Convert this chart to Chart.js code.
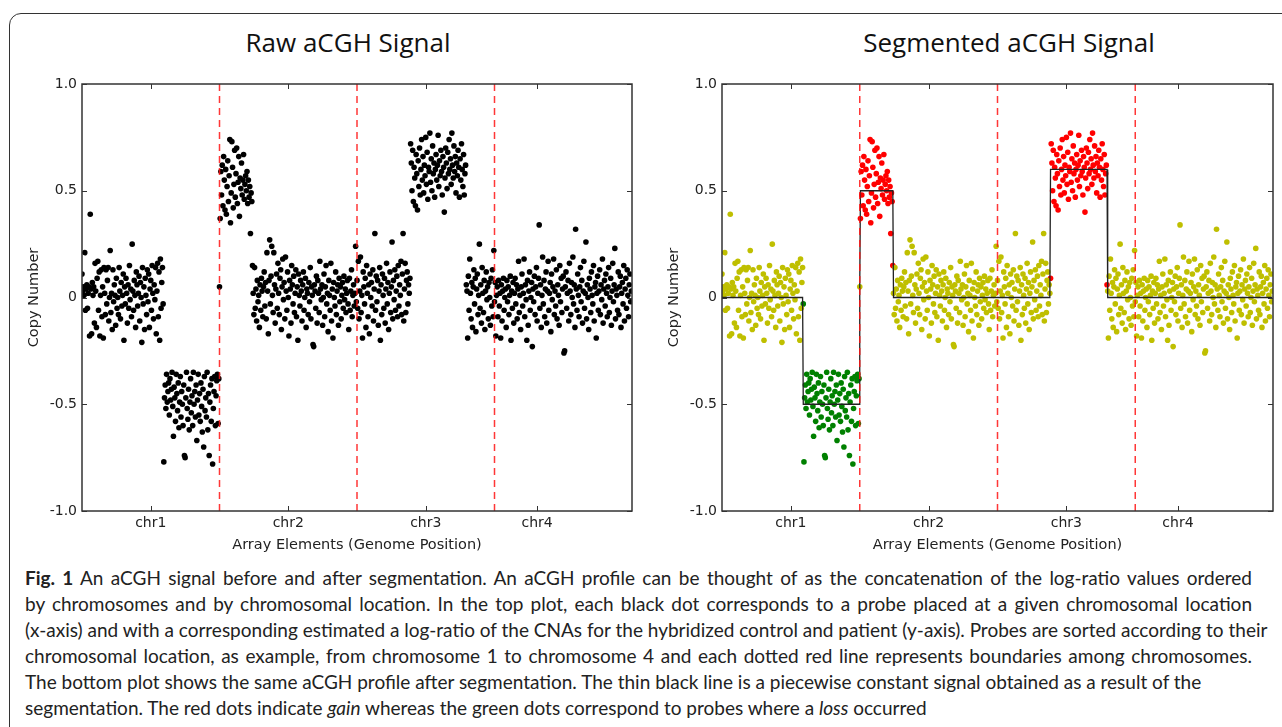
<!DOCTYPE html>
<html lang="en">
<head>
<meta charset="UTF-8">
<title>aCGH signal before and after segmentation</title>
<script src="https://cdn.jsdelivr.net/npm/chart.js"></script>
<style>
    body { margin: 0; background: #fff; width: 1282px; height: 727px; overflow: hidden; position: relative; font-family: 'Open Sans', sans-serif; }
    .frame { position: absolute; left: 9px; top: 13px; width: 1300px; height: 800px; border: 1.5px solid #333; border-radius: 12px; box-sizing: border-box; }
    .plot { position: absolute; top: 0; }
    .plot-title { position: absolute; top: 29px; font-size: 26px; line-height: 26px; color: #111; white-space: nowrap; transform: translateX(-50%); }
    .caption { position: absolute; left: 25px; top: 565px; width: 1227px; font-family: Lato, 'Open Sans', sans-serif; font-size: 19px; line-height: 26px; color: #222; }
    .caption div { white-space: nowrap; }
    .caption .full { text-align: justify; text-align-last: justify; }
</style>
</head>
<body>
    <div class="frame"></div>

    <div class="plot-title" style="left:348px">Raw aCGH Signal</div>
    <div class="plot-title" style="left:1009px">Segmented aCGH Signal</div>

    <canvas id="rawChart" class="plot" style="left:0" width="640" height="560"></canvas>
    <canvas id="segChart" class="plot" style="left:640px" width="640" height="560"></canvas>

    <div class="caption">
        <div class="full"><b>Fig. 1</b> An aCGH signal before and after segmentation. An aCGH profile can be thought of as the concatenation of the log-ratio values ordered</div>
        <div class="full">by chromosomes and by chromosomal location. In the top plot, each black dot corresponds to a probe placed at a given chromosomal location</div>
        <div class="full">(x-axis) and with a corresponding estimated a log-ratio of the CNAs for the hybridized control and patient (y-axis). Probes are sorted according to their</div>
        <div class="full">chromosomal location, as example, from chromosome 1 to chromosome 4 and each dotted red line represents boundaries among chromosomes.</div>
        <div>The bottom plot shows the same aCGH profile after segmentation. The thin black line is a piecewise constant signal obtained as a result of the</div>
        <div>segmentation. The red dots indicate <i>gain</i> whereas the green dots correspond to probes where a <i>loss</i> occurred</div>
    </div>

<script>
// chromosome axis
const chromosomes = ['chr1', 'chr2', 'chr3', 'chr4'];
const chrTickPos = [100, 300, 500, 662];
const chrBoundaries = [200, 400, 600];
const yTicks = [-1, -0.5, 0, 0.5, 1];

// copy number (log-ratio) per probe, 200 probes per chromosome
const chr1Values = [
    0.11, 0.03, 0.05, 0.01, 0.21, -0.06, 0.04, 0.06, -0.05, 0.02,
    0.05, -0.18, 0.39, 0.04, -0.17, 0.07, 0.01, 0.05, -0.12, 0.16,
    0.03, -0.14, 0.09, 0.17, -0.06, 0.12, -0.18, 0.01, 0.13, -0.09,
    0.05, -0.19, 0.14, 0.02, -0.08, 0.13, -0.03, 0.08, 0.14, -0.11,
    0.00, 0.22, -0.07, 0.02, -0.15, 0.13, -0.02, 0.06, 0.01, -0.13,
    0.09, -0.05, 0.00, -0.08, 0.14, 0.03, -0.10, 0.07, -0.04, 0.01,
    0.11, -0.20, 0.05, -0.03, 0.09, 0.02, -0.12, 0.06, -0.05, 0.15,
    -0.01, 0.04, -0.09, 0.25, 0.03, -0.06, 0.08, 0.01, -0.14, 0.12,
    0.06, -0.04, 0.02, 0.10, -0.11, 0.07, 0.00, -0.21, 0.14, -0.03,
    0.05, -0.15, 0.09, 0.01, -0.08, 0.13, -0.02, 0.11, -0.14, 0.04,
    0.08, -0.06, 0.15, 0.02, -0.10, 0.06, -0.01, 0.14, -0.17, 0.03,
    0.16, -0.09, 0.12, -0.20, 0.18, -0.05, 0.07, 0.14,
    -0.03, -0.77, -0.47, -0.41, -0.52, -0.36, -0.49, -0.44, -0.40, -0.55,
    -0.38, -0.48, -0.43, -0.35, -0.51, -0.65, -0.42, -0.47, -0.58, -0.36,
    -0.45, -0.53, -0.40, -0.61, -0.49, -0.37, -0.56, -0.44, -0.50, -0.60,
    -0.41, -0.74, -0.75, -0.47, -0.35, -0.52, -0.57, -0.43, -0.62, -0.49,
    -0.38, -0.54, -0.46, -0.60, -0.35, -0.50, -0.44, -0.56, -0.41, -0.67,
    -0.48, -0.36, -0.55, -0.45, -0.58, -0.40, -0.51, -0.63, -0.43, -0.70,
    -0.37, -0.53, -0.47, -0.56, -0.35, -0.62, -0.45, -0.74, -0.49, -0.41,
    -0.58, -0.38, -0.78, -0.52, -0.44, -0.37, -0.60, -0.46, -0.39, -0.36,
    -0.59, -0.38
];

const chr2Values = [
    0.05,
    0.37, 0.59, 0.48, 0.62, 0.43, 0.66, 0.55, 0.41, 0.60, 0.39,
    0.52, 0.64, 0.45, 0.57, 0.74, 0.35, 0.49, 0.73, 0.61, 0.42,
    0.53, 0.69, 0.47, 0.58, 0.70, 0.44, 0.54, 0.66, 0.38, 0.56,
    0.51, 0.63, 0.48, 0.55, 0.67, 0.46, 0.53, 0.57, 0.50, 0.59,
    0.44, 0.55, 0.47, 0.52, 0.30, 0.49, 0.45, 0.15,
    0.02, -0.08, 0.14, -0.05, 0.04, -0.11, 0.08, -0.02, 0.01, -0.14,
    0.06, -0.06, 0.09, 0.03, -0.09, 0.05, 0.12, -0.04, 0.07, -0.10,
    0.21, 0.03, -0.17, 0.08, 0.27, -0.03, 0.10, 0.24, 0.01, -0.07,
    0.21, 0.06, -0.12, 0.04, 0.11, -0.05, 0.16, 0.02, -0.08, 0.09,
    0.13, -0.15, 0.05, 0.18, -0.01, 0.07, -0.10, 0.19, 0.03, -0.06,
    0.12, 0.00, -0.18, 0.08, 0.04, -0.12, 0.15, 0.06, -0.03, 0.10,
    -0.07, 0.02, 0.13, -0.09, 0.05, -0.20, 0.11, 0.01, -0.04, 0.08,
    0.03, -0.11, 0.06, 0.12, -0.06, 0.00, 0.09, -0.14, 0.04, 0.02,
    -0.08, 0.07, -0.02, 0.14, -0.10, 0.05, 0.01, -0.22, -0.23, 0.06,
    0.03, -0.05, 0.10, -0.12, 0.08, 0.02, -0.07, 0.17, 0.04, -0.01,
    0.06, -0.13, 0.00, 0.11, -0.09, 0.05, 0.15, -0.03, 0.02, -0.16,
    0.08, 0.01, -0.06, 0.16, -0.11, 0.04, -0.19, 0.07, 0.00, -0.04,
    0.12, -0.08, 0.03, 0.06, -0.13, 0.09, -0.02, 0.05, -0.10, 0.01,
    0.07, -0.05, 0.10, -0.01, 0.04, -0.07, 0.02, 0.08, -0.03, -0.15,
    0.09, -0.06, 0.03, 0.13, -0.09, 0.01, 0.06, -0.04, 0.02, 0.24,
    -0.02
];

const chr3Values = [
    0.08, -0.05, 0.17, -0.10, 0.03, 0.19, -0.07, 0.01, -0.19, 0.12,
    0.05, -0.03, 0.09, -0.14, 0.15, 0.02, -0.09, 0.06, -0.17, 0.11,
    0.00, 0.07, -0.04, 0.13, -0.11, 0.04, 0.30, -0.06, 0.10, -0.02,
    0.08, -0.13, 0.03, 0.14, -0.20, 0.06, -0.08, 0.11, 0.01, -0.05,
    0.09, -0.12, 0.04, 0.16, -0.03, 0.07, -0.15, 0.02, 0.12, -0.07,
    0.05, 0.26, -0.10, 0.08, -0.01, 0.13, -0.06, 0.03, 0.10, -0.09,
    0.15, -0.04, 0.06, 0.01, 0.17, -0.08, 0.11, 0.30, -0.11, 0.04,
    0.16, -0.07, 0.08, 0.12, -0.03, 0.06, 0.02,
    0.09, 0.72, 0.63, 0.50, 0.69, 0.45, 0.61, 0.56, 0.43, 0.67,
    0.58, 0.41, 0.64, 0.52, 0.70, 0.48, 0.60, 0.74, 0.55, 0.66,
    0.49, 0.62, 0.57, 0.75, 0.53, 0.68, 0.46, 0.61, 0.59, 0.77,
    0.54, 0.65, 0.50, 0.71, 0.58, 0.63, 0.47, 0.60, 0.67, 0.55,
    0.62, 0.76, 0.52, 0.64, 0.57, 0.69, 0.59, 0.48, 0.66, 0.61,
    0.40, 0.56, 0.70, 0.63, 0.51, 0.68, 0.58, 0.74, 0.60, 0.65,
    0.53, 0.77, 0.62, 0.56, 0.71, 0.59, 0.66, 0.49, 0.63, 0.57,
    0.69, 0.61, 0.47, 0.65, 0.55, 0.72, 0.60, 0.52, 0.67, 0.48,
    0.58, 0.62, 0.06,
    0.03, -0.19, 0.10, -0.06, 0.18, 0.02, -0.10, 0.07, -0.14, 0.05,
    0.13, -0.03, 0.09, -0.16, 0.04, 0.11, -0.08, 0.01, 0.25, -0.05,
    0.06, -0.12, 0.14, 0.02, -0.07, 0.08, -0.15, 0.03, 0.12, -0.01,
    0.05, -0.10, 0.07, 0.00, -0.13, 0.09, -0.04, 0.13, -0.09, 0.22
];

const chr4Values = [
    -0.02, 0.07, -0.18, 0.01, 0.05, -0.09, 0.08, -0.04, 0.02, -0.19,
    0.06, -0.11, 0.03, 0.09, -0.06, 0.00, 0.04, -0.14, 0.08, -0.02,
    0.05, -0.08, 0.01, 0.10, -0.20, 0.03, -0.05, 0.07, -0.12, 0.02,
    0.09, -0.03, 0.06, -0.10, 0.04, 0.17, -0.07, 0.01, -0.15, 0.05,
    0.11, -0.04, 0.02, 0.18, -0.09, 0.06, -0.01, -0.20, 0.08, -0.13,
    0.03, 0.12, -0.06, 0.00, 0.07, -0.23, 0.04, -0.02, 0.10, -0.08,
    0.05, 0.14, -0.11, 0.02, 0.09, 0.34, -0.05, 0.06, -0.14, 0.01,
    0.19, -0.03, 0.08, -0.09, 0.04, 0.12, -0.12, 0.03, 0.17, -0.06,
    0.02, 0.07, -0.16, 0.11, -0.01, 0.05, 0.18, -0.08, 0.03, -0.04,
    0.13, -0.10, 0.06, 0.01, -0.13, 0.15, -0.02, 0.09, -0.07, 0.04,
    0.10, -0.26, -0.25, 0.05, 0.12, -0.05, 0.02, 0.08, -0.11, 0.16,
    0.03, -0.08, 0.07, 0.00, 0.19, -0.03, 0.06, -0.14, 0.32, 0.04,
    -0.06, 0.11, 0.01, -0.09, 0.05, 0.14, -0.02, 0.08, -0.12, 0.03,
    0.17, -0.05, 0.02, 0.26, -0.10, 0.06, 0.00, -0.15, 0.09, 0.04,
    -0.07, 0.12, 0.01, -0.03, 0.15, -0.11, 0.05, 0.07, -0.19, 0.02,
    0.10, -0.06, 0.03, 0.13, -0.08, 0.06, -0.01, 0.18, -0.12, 0.04,
    0.08, -0.04, 0.11, 0.02, -0.09, 0.05, 0.14, -0.07, 0.00, 0.09,
    -0.13, 0.03, 0.16, -0.02, 0.06, 0.23, -0.10, 0.04, 0.01, -0.06,
    0.12, -0.08, 0.05, 0.10, -0.14, 0.02, 0.07, -0.03, 0.15, -0.11,
    0.04, 0.09, -0.05, 0.13, 0.01, -0.09, 0.06, 0.11, -0.02, 0.03
];

// segmentation result (probe index ranges, constant level, call)
const segStart = [0, 118, 200, 201, 249, 477, 560];
const segEnd   = [117, 199, 200, 248, 476, 559, 799];
const segLevel = [0, -0.5, 0.05, 0.5, 0, 0.6, 0];
const segState = ['neutral', 'loss', 'neutral', 'gain', 'neutral', 'gain', 'neutral'];

const values = chr1Values.concat(chr2Values, chr3Values, chr4Values);
const probes = values.map((v, i) => ({ x: i, y: v }));

function stateOf(i) {
    const k = segStart.findIndex((s, j) => i >= s && i <= segEnd[j]);
    return segState[k];
}

const stepLine = [];
segStart.forEach((s, j) => {
    stepLine.push({ x: s, y: segLevel[j] }, { x: segEnd[j], y: segLevel[j] });
});

// box around the axes with inward ticks on all four sides
const boxTicks = {
    id: 'boxTicks',
    afterDatasetsDraw(chart) {
        const { ctx, chartArea: a, scales: { x, y } } = chart;
        ctx.save();
        ctx.strokeStyle = '#333';
        ctx.lineWidth = 1.5;
        ctx.strokeRect(a.left, a.top, a.width, a.height);
        ctx.lineWidth = 1;
        ctx.beginPath();
        x.ticks.forEach(t => {
            const px = Math.round(x.getPixelForValue(t.value)) + 0.5;
            ctx.moveTo(px, a.bottom); ctx.lineTo(px, a.bottom - 5);
            ctx.moveTo(px, a.top); ctx.lineTo(px, a.top + 5);
        });
        y.ticks.forEach(t => {
            const py = Math.round(y.getPixelForValue(t.value)) + 0.5;
            ctx.moveTo(a.left, py); ctx.lineTo(a.left + 5, py);
            ctx.moveTo(a.right, py); ctx.lineTo(a.right - 5, py);
        });
        ctx.stroke();
        ctx.restore();
    }
};

function boundaryLines() {
    return chrBoundaries.map(b => ({
        data: [{ x: b, y: -1 }, { x: b, y: 1 }],
        showLine: true,
        borderColor: 'rgba(255, 20, 20, 0.85)',
        borderWidth: 1.5,
        borderDash: [7, 5],
        pointRadius: 0,
        order: 0
    }));
}

function makeScales() {
    return {
        x: {
            type: 'linear',
            min: 0,
            max: 800,
            grid: { display: false, drawTicks: false },
            border: { display: false },
            afterBuildTicks: s => { s.ticks = chrTickPos.map(v => ({ value: v })); },
            afterFit: s => { s.height = 49; },
            ticks: {
                autoSkip: false,
                maxRotation: 0,
                padding: 4,
                color: '#222',
                font: { family: 'DejaVu Sans', size: 14 },
                callback: (v, i) => chromosomes[i]
            },
            title: {
                display: true,
                text: 'Array Elements (Genome Position)',
                color: '#222',
                font: { family: 'DejaVu Sans', size: 14.5 },
                padding: { top: 0, bottom: 6 }
            }
        },
        y: {
            min: -1,
            max: 1,
            grid: { display: false, drawTicks: false },
            border: { display: false },
            afterBuildTicks: s => { s.ticks = yTicks.map(v => ({ value: v })); },
            afterFit: s => { s.width = 82; },
            ticks: {
                padding: 5,
                color: '#222',
                font: { family: 'DejaVu Sans', size: 14 },
                callback: v => v === 0 ? '0' : v.toFixed(1)
            },
            title: {
                display: true,
                text: 'Copy Number',
                color: '#222',
                font: { family: 'DejaVu Sans', size: 14.5 },
                padding: { top: 26, bottom: 0 }
            }
        }
    };
}

function makeOptions(padRight) {
    return {
        responsive: false,
        animation: false,
        events: [],
        layout: { padding: { top: 84, right: padRight, left: 0, bottom: 0 } },
        plugins: {
            legend: { display: false },
            tooltip: { enabled: false }
        },
        scales: makeScales()
    };
}

// Raw signal
new Chart(document.getElementById('rawChart'), {
    type: 'scatter',
    data: {
        datasets: [
            {
                data: probes,
                backgroundColor: '#000',
                borderWidth: 0,
                pointRadius: 2.8,
                order: 2
            },
            ...boundaryLines()
        ]
    },
    options: makeOptions(8),
    plugins: [boxTicks]
});

// Segmented signal
const stateColors = { neutral: '#bfbf00', gain: '#ff0000', loss: '#008000' };

new Chart(document.getElementById('segChart'), {
    type: 'scatter',
    data: {
        datasets: [
            ...['neutral', 'gain', 'loss'].map(st => ({
                data: probes.filter(p => stateOf(p.x) === st),
                backgroundColor: stateColors[st],
                borderWidth: 0,
                pointRadius: 2.8,
                order: 2
            })),
            {
                data: stepLine,
                showLine: true,
                borderColor: '#222',
                borderWidth: 1.3,
                pointRadius: 0,
                order: 1
            },
            ...boundaryLines()
        ]
    },
    options: makeOptions(7),
    plugins: [boxTicks]
});
</script>
</body>
</html>
